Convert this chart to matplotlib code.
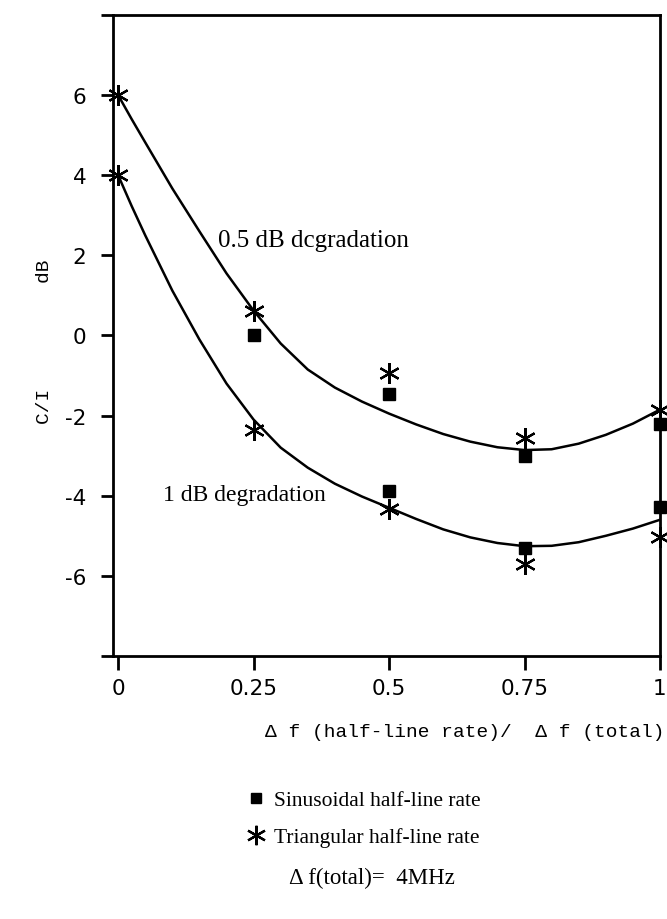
import matplotlib.pyplot as plt
from matplotlib.lines import Line2D

# measured points (x = df(half-line rate) / df(total), y = C/I in dB)
x_pts = [0, 0.25, 0.5, 0.75, 1.0]
tri_half_db = [6.0, 0.61, -0.93, -2.55, -1.85]
tri_one_db = [4.0, -2.35, -4.32, -5.71, -5.04]

x_sin_half = [0.25, 0.5, 0.75, 1.0]
sin_half_db = [0.0, -1.46, -3.0, -2.2]
x_sin_one = [0.5, 0.75, 1.0]
sin_one_db = [-3.88, -5.31, -4.29]

# fitted curves
x_curve = [0, 0.025, 0.05, 0.1, 0.15, 0.2, 0.25, 0.3, 0.35, 0.4, 0.45, 0.5,
           0.55, 0.6, 0.65, 0.7, 0.75, 0.8, 0.85, 0.9, 0.95, 1.0]
curve_half = [6.0, 5.4, 4.82, 3.67, 2.6, 1.55, 0.62, -0.2, -0.85, -1.3, -1.65, -1.95,
              -2.22, -2.46, -2.65, -2.79, -2.86, -2.84, -2.7, -2.48, -2.2, -1.85]
curve_one = [4.0, 3.23, 2.5, 1.12, -0.1, -1.2, -2.1, -2.8, -3.3, -3.7, -4.02, -4.3,
             -4.58, -4.84, -5.04, -5.18, -5.26, -5.25, -5.16, -5.0, -4.82, -4.6]

x_ticks = [0, 0.25, 0.5, 0.75, 1.0]
x_ticklabels = ['0', '0.25', '0.5', '0.75', '1']
y_ticks = [-8, -6, -4, -2, 0, 2, 4, 6, 8]
y_ticklabels = ['', '-6', '-4', '-2', '0', '2', '4', '6', '']

star = (6, 2, 0)

fig = plt.figure(figsize=(6.67, 9.2), dpi=100)
ax = fig.add_axes([0.169, 0.2859, 0.8205, 0.6967])

ax.plot(x_curve, curve_half, color='black', lw=1.8)
ax.plot(x_curve, curve_one, color='black', lw=1.8)

ax.plot(x_sin_half, sin_half_db, ls='none', marker='s', ms=8, color='black', clip_on=False)
ax.plot(x_sin_one, sin_one_db, ls='none', marker='s', ms=8, color='black', clip_on=False)
ax.plot(x_pts, tri_half_db, ls='none', marker=star, ms=15, mew=1.6, color='black', clip_on=False)
ax.plot(x_pts, tri_one_db, ls='none', marker=star, ms=15, mew=1.6, color='black', clip_on=False)

ax.set_xlim(-0.01, 1.0)
ax.set_ylim(-8, 8)
ax.set_xticks(x_ticks)
ax.set_xticklabels(x_ticklabels)
ax.set_yticks(y_ticks)
ax.set_yticklabels(y_ticklabels)
ax.tick_params(axis='both', direction='out', width=2, labelsize=15.5)
ax.tick_params(axis='x', length=10, pad=6)
ax.tick_params(axis='y', length=9, pad=10)
for s in ax.spines.values():
    s.set_linewidth(2)

ax.text(0.1845, 2.38, '0.5 dB dcgradation', family='Liberation Serif', fontsize=18, va='center')
ax.text(0.083, -3.97, '1 dB degradation', family='Liberation Serif', fontsize=17, va='center')

fig.text(45 / 667, 1 - 342 / 920, 'C/I         dB', family='Liberation Mono', fontsize=14,
         rotation=90, ha='center', va='center')
fig.text(465 / 667, 1 - 733 / 920, '\u0394 f (half-line rate)/  \u0394 f (total)',
         family='Liberation Mono', fontsize=14, ha='center', va='center')

handles = [Line2D([], [], ls='none', marker='s', ms=7, color='black'),
           Line2D([], [], ls='none', marker=star, ms=14, mew=1.6, color='black')]
fig.legend(handles, ['Sinusoidal half-line rate', 'Triangular half-line rate'],
           loc='upper left', bbox_to_anchor=(245 / 667, 1 - 791 / 920), frameon=False,
           prop={'family': 'Liberation Serif', 'size': 15.5}, handlelength=1.0,
           handletextpad=0.35, labelspacing=0.8, borderpad=0, borderaxespad=0)

fig.text(372 / 667, 1 - 878 / 920, '\u0394 f(total)=  4MHz', family='Liberation Serif',
         fontsize=16.5, ha='center', va='center')

fig.savefig('out.png', dpi=100)
